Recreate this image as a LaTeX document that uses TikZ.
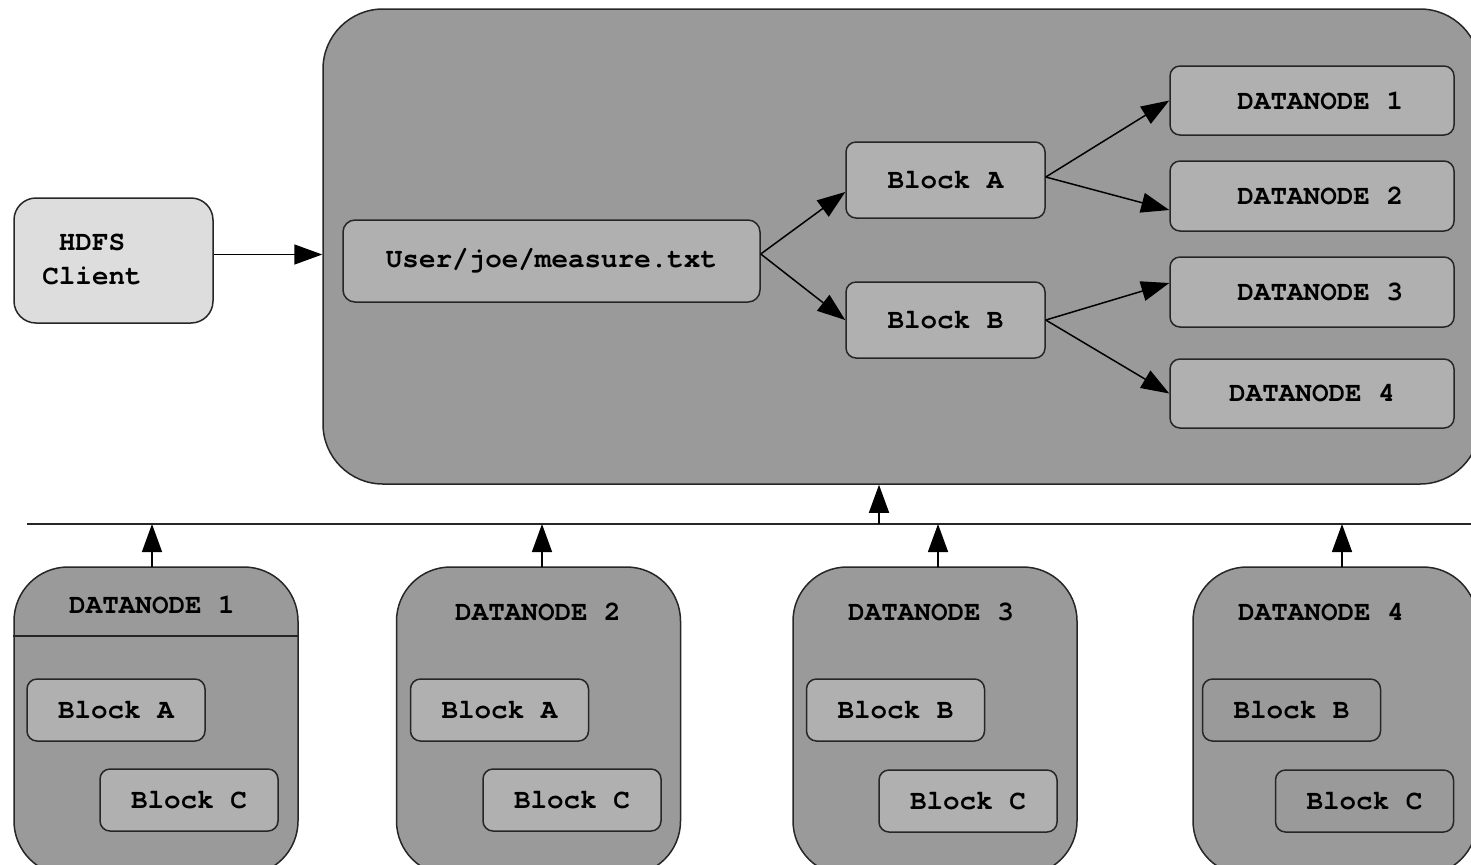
\documentclass[tikz,border=0pt]{standalone}
\usepackage{fontspec}
\setmonofont{TeX Gyre Cursor}
\usetikzlibrary{arrows.meta}
\definecolor{HostGray}{HTML}{9A9A9A}
\definecolor{BlockGray}{HTML}{B0B0B0}
\definecolor{ClientGray}{HTML}{DDDDDD}
\tikzset{
	edge/.style={draw=black!85, line width=0.75pt},
	tip/.style={edge, draw=black, -{Triangle[length=14pt,width=10pt]}},
	blk/.style={edge, fill=BlockGray, rounded corners=5pt, inner sep=0pt},
	host/.style={edge, fill=HostGray, rounded corners=27pt, minimum width=142pt, minimum height=154pt}
}

\begin{document}
\begin{tikzpicture}[x=0.5pt,y=-0.5pt,font=\ttfamily\bfseries\fontsize{13.8}{17}\selectfont]
					\clip (0,0) rectangle (1471,864);
					% namenode side
					\node[edge, fill=ClientGray, rounded corners=11pt, minimum width=99.5pt, minimum height=62.5pt] (client) at (113.5,260.5) {};
					\node[align=center] (clienttext) at (92,259) {HDFS\\Client};
					\node[edge, fill=HostGray, rounded corners=30pt, minimum width=578.5pt, minimum height=237.5pt] (fs) at (901.5,246.5) {};
					\node[blk, rounded corners=6pt, minimum width=208.5pt, minimum height=41pt] (measure) at (551.5,261) {User/joe/measure.txt};
					\node[blk, minimum width=99.5pt, minimum height=38pt] (blockA) at (945.5,180) {Block A};
					\node[blk, minimum width=99.5pt, minimum height=38pt] (blockB) at (945.5,320) {Block B};
					\node[blk, minimum width=142pt, minimum height=34.5pt] (dn1) at (1312,100.5) {~DATANODE 1};
					\node[blk, minimum width=142pt, minimum height=35pt] (dn2) at (1312,196) {~DATANODE 2};
					\node[blk, minimum width=142pt, minimum height=35pt] (dn3) at (1312,292) {~DATANODE 3};
					\node[blk, minimum width=142pt, minimum height=34.5pt] (dn4) at (1312,393.5) {DATANODE 4};
					\draw[tip] ([yshift=3pt]client.east) -- ([yshift=3pt]client.east -| fs.west);
					\draw[tip] ([yshift=3.5pt]measure.east) -- ([yshift=-6pt]blockA.west);
					\draw[tip] ([yshift=3.5pt]measure.east) -- (blockB.west);
					\draw[tip] ([yshift=1.5pt]blockA.east) -- (dn1.west);
					\draw[tip] ([yshift=1.5pt]blockA.east) -- ([yshift=-7pt]dn2.west);
					\draw[tip] (blockB.east) -- ([yshift=4.5pt]dn3.west);
					\draw[tip] (blockB.east) -- (dn4.west);
					% bus
					\coordinate (busL) at (27,524);
					\coordinate (busR) at (1471,524);
					\coordinate (busup) at (879,524);
					\draw[edge] (busL) -- (busR);
					\draw[tip] (busup) -- (busup |- fs.south);
					% datanodes
					\node[host] (node1) at (156,721) {};
					\node[host] (node2) at (538.5,721) {};
					\node[host] (node3) at (935,721) {};
					\node[host] (node4) at (1335,721) {};
					\node (title1) at (152,605) {DATANODE 1};
					\node (title2) at (538,612) {DATANODE 2};
					\node (title3) at (931,612) {DATANODE 3};
					\node (title4) at (1321,612) {DATANODE 4};
					\coordinate (cut) at (0,636);
					\draw[edge] (cut -| node1.west) -- (cut -| node1.east);
					\foreach \n/\x in {1/152,2/542,3/938,4/1342}
					\draw[tip] (\x,567) -- (\x,524);
					\node[blk, minimum width=89pt, minimum height=31pt] (n1a) at (116,710) {Block A};
					\node[blk, minimum width=89pt, minimum height=31pt] (n1c) at (189,800) {Block C};
					\node[blk, minimum width=89pt, minimum height=31pt] (n2a) at (499.5,710) {Block A};
					\node[blk, minimum width=89pt, minimum height=31pt] (n2c) at (572,800) {Block C};
					\node[blk, minimum width=89pt, minimum height=31pt] (n3b) at (895.5,710) {Block B};
					\node[blk, minimum width=89pt, minimum height=31pt] (n3c) at (968,801) {Block C};
					\node[blk, fill=HostGray, minimum width=89pt, minimum height=31pt] (n4b) at (1291.5,710) {Block B~};
					\node[blk, fill=HostGray, minimum width=89pt, minimum height=31pt] (n4c) at (1364.5,801) {Block C};
				\end{tikzpicture}
\end{document}
